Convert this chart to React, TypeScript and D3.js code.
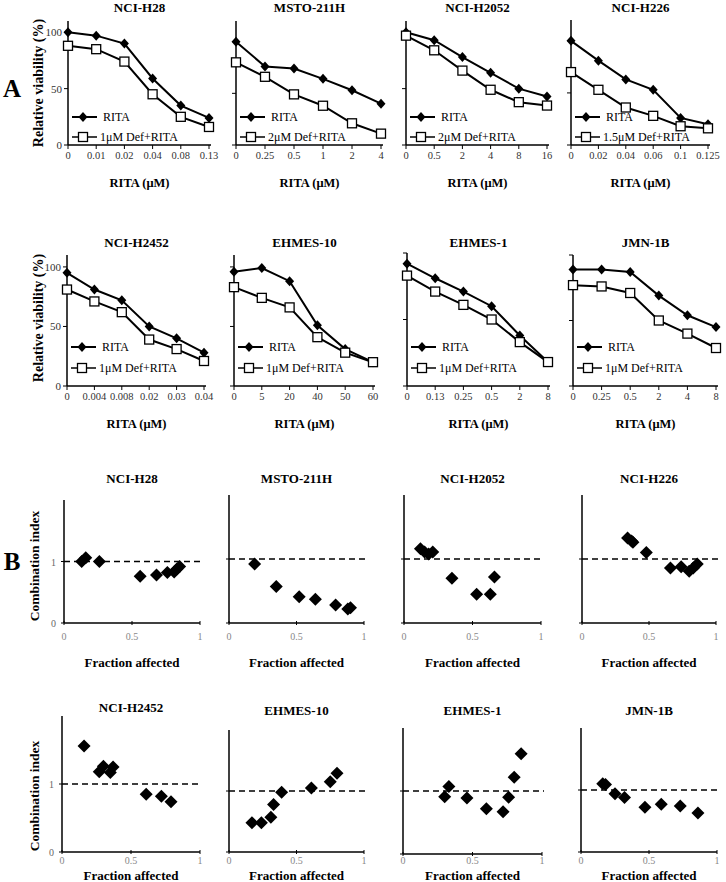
import React from 'react';
import * as d3 from 'd3';

// ---------- DATA ----------
const cellLines = ["NCI-H28", "MSTO-211H", "NCI-H2052", "NCI-H226", "NCI-H2452", "EHMES-10", "EHMES-1", "JMN-1B"];

const ritaDoses = [
  ["0", "0.01", "0.02", "0.04", "0.08", "0.13"],
  ["0", "0.25", "0.5", "1", "2", "4"],
  ["0", "0.5", "2", "4", "8", "16"],
  ["0", "0.02", "0.04", "0.06", "0.1", "0.125"],
  ["0", "0.004", "0.008", "0.02", "0.03", "0.04"],
  ["0", "5", "20", "40", "50", "60"],
  ["0", "0.13", "0.25", "0.5", "2", "8"],
  ["0", "0.25", "0.5", "2", "4", "8"],
];

const ritaViability = [
  [100, 97, 90, 59, 35, 24],
  [100, 76, 74, 64, 53, 40],
  [100, 93, 78, 64, 50, 43],
  [100, 81, 63, 53, 26, 20],
  [95, 81, 72, 50, 40, 28],
  [96, 99, 88, 51, 31, 20],
  [92, 81, 71, 60, 38, 18],
  [89, 89, 87, 69, 54, 45],
];

const comboViability = [
  [88, 85, 74, 45, 25, 16],
  [80, 66, 49, 38, 21, 11],
  [97, 84, 66, 49, 38, 35],
  [70, 53, 36, 28, 18, 16],
  [81, 71, 62, 39, 31, 21],
  [83, 74, 66, 41, 28, 20],
  [83, 71, 61, 50, 33, 18],
  [77, 76, 71, 50, 40, 29],
];

const comboLabels = ["1μM Def+RITA", "2μM Def+RITA", "2μM Def+RITA", "1.5μM Def+RITA", "1μM Def+RITA", "1μM Def+RITA", "1μM Def+RITA", "1μM Def+RITA"];
const viabilityMax = [110, 120, 110, 120, 110, 110, 100, 100];
const viabilityTicks = [0, 50, 100];

const fractionAffected = [
  [0.13, 0.16, 0.26, 0.56, 0.68, 0.76, 0.81, 0.83, 0.85],
  [0.19, 0.35, 0.52, 0.64, 0.79, 0.88, 0.90],
  [0.12, 0.15, 0.18, 0.21, 0.35, 0.53, 0.63, 0.66],
  [0.34, 0.37, 0.38, 0.48, 0.66, 0.74, 0.80, 0.83, 0.86],
  [0.16, 0.27, 0.30, 0.35, 0.37, 0.61, 0.72, 0.79],
  [0.17, 0.24, 0.31, 0.33, 0.39, 0.61, 0.75, 0.80],
  [0.30, 0.33, 0.46, 0.60, 0.72, 0.76, 0.80, 0.85],
  [0.16, 0.18, 0.25, 0.32, 0.47, 0.59, 0.73, 0.86],
];

const combinationIndex = [
  [1.00, 1.06, 1.00, 0.76, 0.78, 0.82, 0.83, 0.88, 0.92],
  [0.92, 0.57, 0.41, 0.37, 0.28, 0.22, 0.24],
  [1.16, 1.11, 1.08, 1.11, 0.70, 0.45, 0.45, 0.72],
  [1.33, 1.28, 1.26, 1.10, 0.86, 0.88, 0.81, 0.86, 0.92],
  [1.56, 1.18, 1.26, 1.17, 1.25, 0.85, 0.82, 0.74],
  [0.48, 0.48, 0.57, 0.78, 0.98, 1.05, 1.15, 1.29],
  [0.91, 1.07, 0.89, 0.72, 0.67, 0.90, 1.22, 1.59],
  [1.10, 1.09, 0.94, 0.88, 0.72, 0.77, 0.74, 0.63],
];

const ciMax = 2;
const ciReference = 1;
const faTicks = [0, 0.5, 1];
const faTickLabels = ["0", "0.5", "1"];
const ciTicks = [0, 1];

// ---------- LAYOUT ----------
const FONT = "'Liberation Serif', 'Times New Roman', serif";

const aX0 = [68, 236, 406, 571, 67, 234, 407, 573];
const aWidth = [141, 145, 141, 137, 137, 139, 141, 143];
const aTop = [21, 21, 21, 20, 255, 255, 253, 255];
const aBottom = [145, 145, 145, 145, 386, 386, 386, 386];

const bX0 = [64, 229, 404, 582, 62, 229, 403, 581];
const bWidth = [136, 135, 137, 134, 138, 135, 139, 136];
const bTop = [500, 495, 495, 495, 716, 730, 728, 728];
const bBottom = [623, 623, 623, 623, 852, 852, 854, 852];

const diamondA = "M0,-5L4.5,0L0,5L-4.5,0Z";
const diamondB = "M0,-6.5L6.5,0L0,6.5L-6.5,0Z";

function PanelA({ i }: { i: number }) {
  const doses = ritaDoses[i];
  const x0 = aX0[i];
  const row2 = i >= 4;
  const x = d3.scalePoint<string>().domain(doses).range([x0, x0 + aWidth[i]]);
  const y = d3.scaleLinear().domain([0, viabilityMax[i]]).range([aBottom[i], aTop[i]]);
  const bottom = aBottom[i];
  const top = aTop[i];
  const line = d3.line<number>().x((_, j) => x(doses[j])!).y((d) => y(d));
  const ritaPts = ritaViability[i];
  const comboPts = comboViability[i];
  const xEnd = x(doses[doses.length - 1])! + 2;
  const cx = (x0 + xEnd) / 2;
  const titleY = row2 ? 247 : 12;
  const leg1 = bottom - (row2 ? 39 : 28);
  const leg2 = bottom - (row2 ? 18 : 8);
  return (
    <g>
      <text x={cx} y={titleY} textAnchor="middle" fontWeight="bold" fontSize={13}>{cellLines[i]}</text>
      {/* axes */}
      <line x1={x0} x2={x0} y1={top} y2={bottom} stroke="#000" strokeWidth={1.5} />
      <line x1={x0} x2={xEnd} y1={bottom} y2={bottom} stroke="#000" strokeWidth={1.5} />
      {viabilityTicks.map((t) => (
        <g key={t}>
          <line x1={x0 - 4} x2={x0} y1={y(t)} y2={y(t)} stroke="#000" strokeWidth={1} />
          {(i === 0 || i === 4) && (
            <text x={x0 - 6} y={y(t) + 4} textAnchor="end" fontSize={11} fill="#333">{t}</text>
          )}
        </g>
      ))}
      {doses.map((d) => (
        <g key={d}>
          <line x1={x(d)!} x2={x(d)!} y1={bottom} y2={bottom + 4} stroke="#000" strokeWidth={1} />
          <text x={x(d)!} y={bottom + 14} textAnchor="middle" fontSize={10.5} fill="#333">{d}</text>
        </g>
      ))}
      <text x={cx} y={bottom + 42} textAnchor="middle" fontWeight="bold" fontSize={12.5}>RITA (μM)</text>
      {/* series */}
      <path d={line(ritaPts) || ''} fill="none" stroke="#000" strokeWidth={2} />
      <path d={line(comboPts) || ''} fill="none" stroke="#000" strokeWidth={2} />
      {ritaPts.map((v, j) => (
        <path key={'r' + j} d={diamondA} transform={`translate(${x(doses[j])},${y(v)})`} fill="#000" />
      ))}
      {comboPts.map((v, j) => (
        <rect key={'c' + j} x={x(doses[j])! - 4.5} y={y(v) - 4.5} width={9} height={9} fill="#fff" stroke="#000" strokeWidth={1.3} />
      ))}
      {/* legend */}
      <line x1={x0 + 4} x2={x0 + 29} y1={leg1} y2={leg1} stroke="#000" strokeWidth={2} />
      <path d={diamondA} transform={`translate(${x0 + 15},${leg1})`} fill="#000" />
      <text x={x0 + 35} y={leg1 + 4} fontSize={12}>RITA</text>
      <line x1={x0 + 4} x2={x0 + 29} y1={leg2} y2={leg2} stroke="#000" strokeWidth={1.5} />
      <rect x={x0 + 10.5} y={leg2 - 4.5} width={9} height={9} fill="#fff" stroke="#000" strokeWidth={1.3} />
      <text x={x0 + 32} y={leg2 + 4} fontSize={12}>{comboLabels[i]}</text>
    </g>
  );
}

function PanelB({ i }: { i: number }) {
  const x0 = bX0[i];
  const row2 = i >= 4;
  const x = d3.scaleLinear().domain([0, 1]).range([x0, x0 + bWidth[i]]);
  const y = d3.scaleLinear().domain([0, ciMax]).range([bBottom[i], bTop[i]]);
  const bottom = bBottom[i];
  const cx = x(0.5);
  const titleY = row2 ? (i === 4 ? 712 : 715) : 483;
  const fa = fractionAffected[i];
  const ci = combinationIndex[i];
  return (
    <g>
      <text x={cx} y={titleY} textAnchor="middle" fontWeight="bold" fontSize={13}>{cellLines[i]}</text>
      <line x1={x0} x2={x0} y1={bTop[i]} y2={bottom} stroke="#000" strokeWidth={1.5} />
      <line x1={x0} x2={x(1)} y1={bottom} y2={bottom} stroke="#000" strokeWidth={1.5} />
      {faTicks.map((t, k) => (
        <g key={t}>
          <line x1={x(t)} x2={x(t)} y1={bottom - 2} y2={bottom + 2} stroke="#000" strokeWidth={1} />
          <text x={x(t)} y={row2 ? 864 : bottom + 17} textAnchor="middle" fontSize={10} fill="#888">{faTickLabels[k]}</text>
        </g>
      ))}
      {ciTicks.map((t) => (
        <g key={t}>
          <line x1={x0 - 3} x2={x0} y1={y(t)} y2={y(t)} stroke="#000" strokeWidth={1} />
          {(i === 0 || i === 4) && (
            <text x={x0 - 8} y={y(t) + 4} textAnchor="end" fontSize={10} fill="#666">{t}</text>
          )}
        </g>
      ))}
      <line x1={x0} x2={x(1) + 2} y1={y(ciReference)} y2={y(ciReference)} stroke="#000" strokeWidth={1.5} strokeDasharray="6,4" />
      {fa.map((f, j) => (
        <path key={j} d={diamondB} transform={`translate(${x(f)},${y(ci[j])})`} fill="#000" />
      ))}
      <text x={cx} y={row2 ? 880 : 667} textAnchor="middle" fontWeight="bold" fontSize={13}>Fraction affected</text>
    </g>
  );
}

export default function App() {
  return (
    <svg width={726} height={882} style={{ position: 'absolute', left: 0, top: 0, background: '#fff' }} fontFamily={FONT}>
      <rect width={726} height={882} fill="#fff" />
      <text x={12} y={97} textAnchor="middle" fontWeight="bold" fontSize={25}>A</text>
      <text x={12} y={570} textAnchor="middle" fontWeight="bold" fontSize={25}>B</text>
      <text transform="translate(43,83) rotate(-90)" textAnchor="middle" fontWeight="bold" fontSize={14}>Relative viability (%)</text>
      <text transform="translate(43,318) rotate(-90)" textAnchor="middle" fontWeight="bold" fontSize={14}>Relative viability (%)</text>
      <text transform="translate(39,566) rotate(-90)" textAnchor="middle" fontWeight="bold" fontSize={13.5}>Combination index</text>
      <text transform="translate(39,796) rotate(-90)" textAnchor="middle" fontWeight="bold" fontSize={13.5}>Combination index</text>
      {cellLines.map((_, i) => <PanelA key={'a' + i} i={i} />)}
      {cellLines.map((_, i) => <PanelB key={'b' + i} i={i} />)}
    </svg>
  );
}
